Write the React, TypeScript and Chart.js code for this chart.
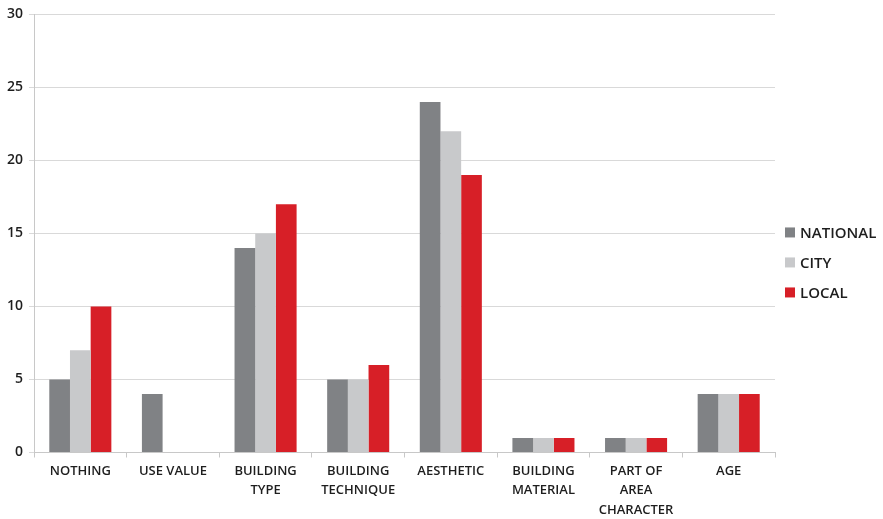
import React, { useEffect, useRef } from "react";
import { Chart, registerables } from "chart.js";

Chart.register(...registerables);

const categories: (string | string[])[] = [
  "NOTHING",
  "USE VALUE",
  ["BUILDING", "TYPE"],
  ["BUILDING", "TECHNIQUE"],
  "AESTHETIC",
  ["BUILDING", "MATERIAL"],
  ["PART OF", "AREA", "CHARACTER"],
  "AGE",
];
const seriesNames = ["NATIONAL", "CITY", "LOCAL"];
const seriesColors = ["#808285", "#c8c9cb", "#d71f27"];
const nationalValues = [5, 4, 14, 5, 24, 1, 1, 4];
const cityValues = [7, 0, 15, 5, 22, 1, 1, 4];
const localValues = [10, 0, 17, 6, 19, 1, 1, 4];
const yTicks = [0, 5, 10, 15, 20, 25, 30];

const fam = "'Open Sans', sans-serif";

const sideLegend = {
  id: "sideLegend",
  afterDraw(chart: any) {
    const { ctx, chartArea } = chart;
    const mid = (chartArea.top + chartArea.bottom) / 2 + 29;
    const gap = 30;
    ctx.save();
    ctx.font = `600 15px ${fam}`;
    ctx.textBaseline = "middle";
    ctx.textAlign = "left";
    chart.data.datasets.forEach((ds: any, i: number) => {
      const y = mid + (i - 1) * gap;
      const x = chartArea.right + 10;
      ctx.fillStyle = ds.backgroundColor;
      ctx.fillRect(x, y - 5, 10, 10);
      ctx.fillStyle = "#1e1e1e";
      ctx.fillText(ds.label, x + 15, y + 1);
    });
    ctx.restore();
  },
};

export default function App() {
  const ref = useRef<HTMLCanvasElement | null>(null);
  useEffect(() => {
    document.body.style.margin = "0";
    if (!ref.current) return;
    const values = [nationalValues, cityValues, localValues];
    const chart = new Chart(ref.current, {
      type: "bar",
      data: {
        labels: categories as any,
        datasets: seriesNames.map((n, i) => ({
          label: n,
          data: values[i],
          backgroundColor: seriesColors[i],
        })),
      },
      plugins: [sideLegend],
      options: {
        animation: false,
        responsive: false,
        maintainAspectRatio: false,
        layout: { padding: { top: 6, right: 108, bottom: -5, left: 1 } },
        datasets: { bar: { barPercentage: 1, categoryPercentage: 0.67 } } as any,
        plugins: {
          legend: { display: false },
          tooltip: { enabled: false },
        },
        scales: {
          x: {
            grid: {
              offset: true,
              drawOnChartArea: false,
              drawTicks: true,
              tickLength: 5,
              color: "#c8c8c8",
            },
            border: { color: "#c8c8c8" },
            ticks: {
              color: "#1e1e1e",
              font: { family: fam, size: 13, weight: "600", lineHeight: 1.5 },
              maxRotation: 0,
              autoSkip: false,
              padding: 4,
            },
          },
          y: {
            min: 0,
            max: 30,
            afterBuildTicks: (axis: any) => {
              axis.ticks = yTicks.map((v) => ({ value: v }));
            },
            grid: { color: "#d9d9d9", tickLength: 5 },
            border: { color: "#c8c8c8" },
            ticks: {
              color: "#1e1e1e",
              font: { family: fam, size: 14, weight: "600" },
              padding: 6,
            },
          },
        },
      },
    });
    return () => chart.destroy();
  }, []);
  return (
    <div style={{ width: 883, height: 519 }}>
      <canvas ref={ref} width={883} height={519} style={{ display: "block" }} />
    </div>
  );
}
